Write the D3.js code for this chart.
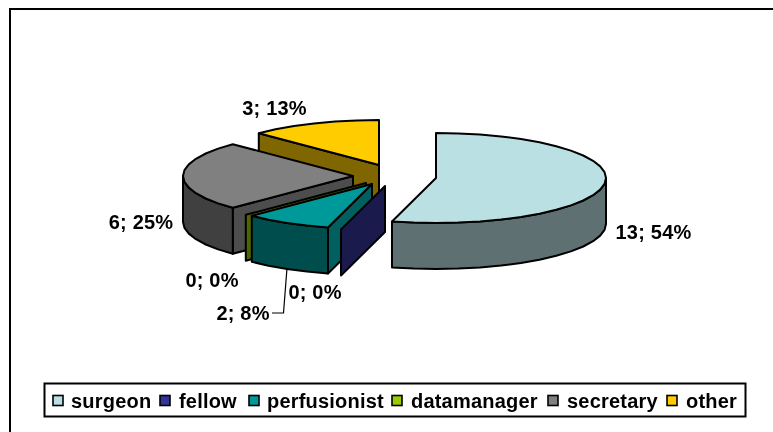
<!DOCTYPE html>
<html><head><meta charset="utf-8">
<script src="https://cdn.jsdelivr.net/npm/d3@7"></script>
<style>html,body{margin:0;padding:0;background:#fff;overflow:hidden}svg{display:block;filter:blur(.35px)}text{font-family:"Liberation Sans",Arial,sans-serif;font-weight:700;fill:#000;letter-spacing:.2px}</style>
</head><body><svg id="c" width="773" height="432"></svg>
<script>
// data
const categories = ["surgeon","fellow","perfusionist","datamanager","secretary","other"];
const counts = [13,0,2,0,6,3];
const percentLabels = ["54%","0%","8%","0%","25%","13%"];
const colors = ["#BBE0E3","#333399","#009999","#99CC00","#808080","#FFCC00"];
const wallColors = ["#5E7072","#1A1A4D","#004D4D","#4D6600","#404040","#806600"];
const sideColors = ["#5E7072","#1A1A4D","#006060","#4D6600","#4D4D4D","#806600"];

// layout (kept apart from the data)
const apex = [[436,178],[385,186],[372,184],[366,183],[353,176],[379,165]];
const labelPos = [[653.5,232],[315,292],[243,313],[212,280],[141,222],[274.5,108]];
const legendSwatchX = [53,160,249,392,548,667];
const legendTextX = [71,179,267,411,567,686];
const rx = 170, ry = 45, depth = 46;
const drawOrder = [5,4,3,2,1,0];
const lw = 2;

const svg = d3.select("#c");
svg.append("rect").attr("x",10).attr("y",9).attr("width",790).attr("height",440).attr("fill","#fff").attr("stroke","#000").attr("stroke-width",2);

const arcs = d3.pie().sort(null).value(d=>d)(counts);
const pt = (i,a,dz=0)=>[apex[i][0]+rx*Math.sin(a), apex[i][1]-ry*Math.cos(a)+dz];
const line = d3.line();
const poly = (g,pts,fill)=>g.append("path").attr("d",line(pts)+"Z").attr("fill",fill)
  .attr("stroke","#000").attr("stroke-width",lw).attr("stroke-linejoin","round");
const step = Math.PI/24;

const pie = svg.append("g");
drawOrder.forEach(i=>{
  const s = arcs[i], g = pie.append("g");
  const a0 = s.startAngle, a1 = s.endAngle;
  const P = (a,dz=0)=>pt(i,a,dz), C = apex[i], Cb=[C[0],C[1]+depth];
  if (a0===a1) { // empty slice: only a flat wall remains
    poly(g,[C,P(a0),P(a0,depth),Cb],wallColors[i]);
    return;
  }
  // cut face at the start angle, when it looks toward the viewer
  if (a0>Math.PI) poly(g,[C,P(a0),P(a0,depth),Cb],sideColors[i]);
  // outer rim, front half only
  const lo = Math.max(a0,Math.PI/2), hi = Math.min(a1,3*Math.PI/2);
  if (lo<hi) {
    const angs = d3.range(lo,hi,step).concat([hi]);
    poly(g,angs.map(a=>P(a)).concat(angs.map(a=>P(a,depth)).reverse()),wallColors[i]);
  }
  const angs = d3.range(a0,a1,step).concat([a1]);
  poly(g,[C].concat(angs.map(a=>P(a))),colors[i]);
});

// leader line for the perfusionist label
svg.append("path").attr("d",line([[272,313],[283.5,313],[287,268]])).attr("fill","none").attr("stroke","#000").attr("stroke-width",1.2);

// labels
categories.forEach((c,i)=>{
  svg.append("text").attr("x",labelPos[i][0]).attr("y",labelPos[i][1]+7).attr("text-anchor","middle")
    .attr("font-size",20).text(counts[i]+"; "+percentLabels[i]);
});

// legend
const lg = svg.append("g");
lg.append("rect").attr("x",44.5).attr("y",383.5).attr("width",701).attr("height",33).attr("fill","#fff").attr("stroke","#000").attr("stroke-width",2);
categories.forEach((c,i)=>{
  lg.append("rect").attr("x",legendSwatchX[i]).attr("y",395.5).attr("width",10).attr("height",10).attr("fill",colors[i]).attr("stroke","#000").attr("stroke-width",1.6);
  lg.append("text").attr("x",legendTextX[i]).attr("y",407.5).attr("font-size",20).text(c);
});
</script></body></html>
